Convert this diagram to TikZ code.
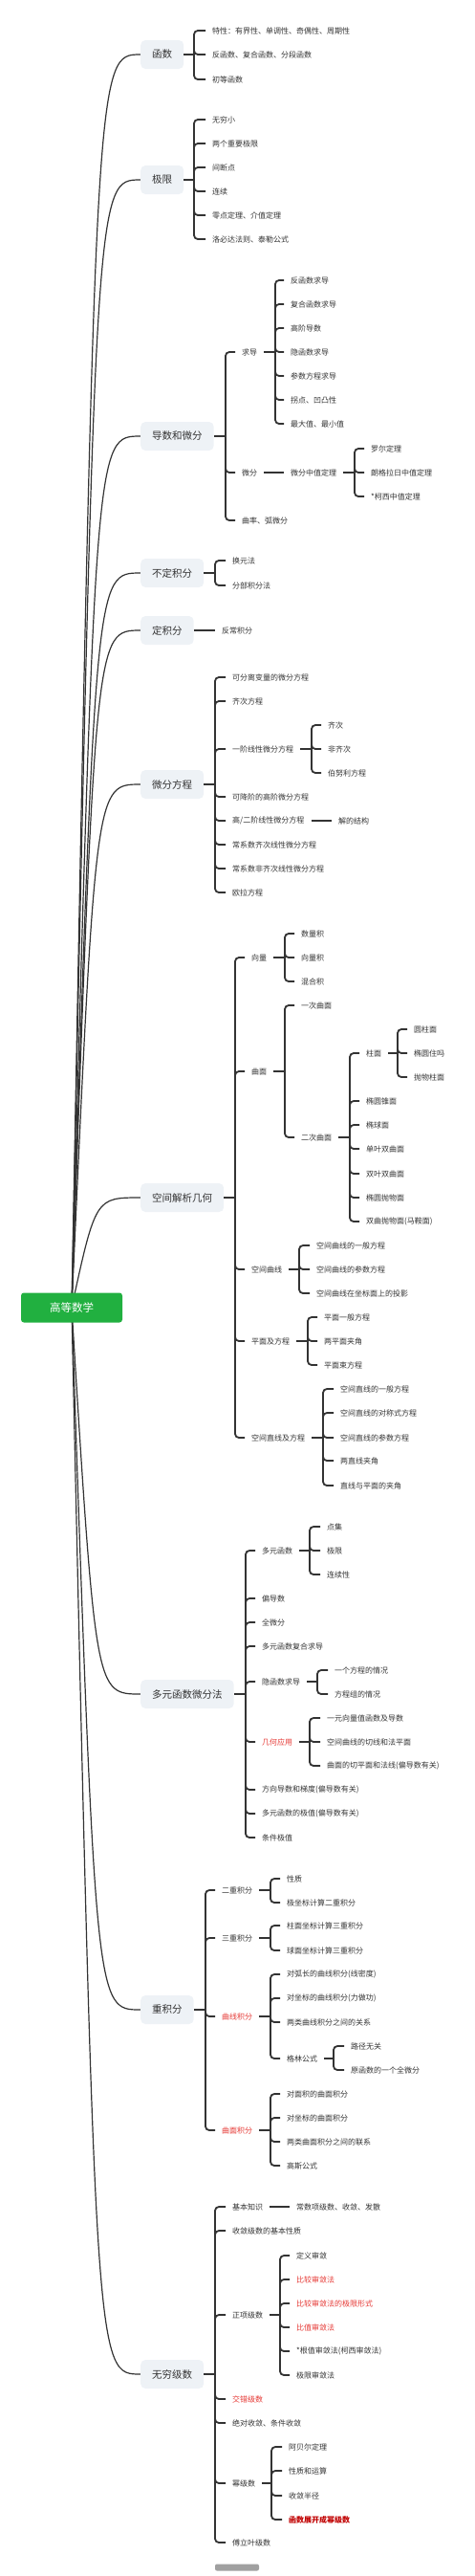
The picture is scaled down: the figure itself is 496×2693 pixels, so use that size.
\documentclass[tikz,border=0pt]{standalone}
\usepackage{fontspec}
\newfontfamily\cjk{Noto Sans CJK SC}
\usetikzlibrary{backgrounds}
\definecolor{txt}{HTML}{333333}
\definecolor{ln}{HTML}{333333}
\definecolor{lonefill}{HTML}{EEF2F6}
\definecolor{rootg}{HTML}{21B040}
\definecolor{redc}{HTML}{E53935}
\definecolor{darkr}{HTML}{C00000}
\definecolor{wmgray}{HTML}{A0A0A0}
\tikzset{
 tx/.style={anchor=west, xshift=-7pt, inner xsep=7pt, inner ysep=1pt, text=txt, font=\cjk\fontsize{8}{10}\selectfont},
 lone/.style={anchor=west, fill=lonefill, rounded corners=5pt, inner xsep=12pt, inner ysep=0pt, minimum height=30pt, text=txt, font=\cjk\fontsize{10.5}{12}\selectfont},
 rootst/.style={fill=rootg, text=white, rounded corners=3pt, minimum width=106pt, minimum height=31pt, inner sep=0pt, font=\cjk\fontsize{11.5}{13}\selectfont},
 br/.style={draw=ln, line width=1.8pt, rounded corners=4pt},
 cv/.style={draw=ln, line width=1.2pt},
 hl/.style={text=redc},
 hd/.style={text=darkr, font=\cjk\bfseries\fontsize{8}{10}\selectfont}
}
\newcommand\brk[3]{%
  \coordinate (#1bx) at (#2,0);
  \draw[br] (#1.east) -- (#1.east -| #1bx);
  \foreach \ch in {#3}{\draw[br] (#1.east -| #1bx) |- (\ch.west);}
}
\begin{document}
\begin{tikzpicture}[x=1pt,y=-1pt]
\useasboundingbox (0,0) rectangle (496,2693);
% root
\node[rootst] (r) at (75,1367) {高等数学};
% level 1
\node[lone] (f) at (147,57) {函数};
\node[lone] (j) at (147,188) {极限};
\node[lone] (d) at (147,456) {导数和微分};
\node[lone] (b) at (147,599) {不定积分};
\node[lone] (dj) at (147,659) {定积分};
\node[lone] (w) at (147,820) {微分方程};
\node[lone] (k) at (147,1252) {空间解析几何};
\node[lone] (m) at (147,1771) {多元函数微分法};
\node[lone] (z) at (147,2101) {重积分};
\node[lone] (s) at (147,2482) {无穷级数};
\coordinate (cc) at (100,0);
\begin{pgfonlayer}{background}
\foreach \L in {f,j,d,b,dj,w,k,m,z,s}{\draw[cv] (r.center) .. controls (\L.west -| cc) .. (\L.west);}
\end{pgfonlayer}
% 函数
\node[tx] (f1) at (222,32) {特性：有界性、单调性、奇偶性、周期性};
\node[tx] (f2) at (222,57) {反函数、复合函数、分段函数};
\node[tx] (f3) at (222,83) {初等函数};
\brk{f}{203}{f1,f2,f3}
% 极限
\node[tx] (j1) at (222,125) {无穷小};
\node[tx] (j2) at (222,150) {两个重要极限};
\node[tx] (j3) at (222,175) {间断点};
\node[tx] (j4) at (222,200) {连续};
\node[tx] (j5) at (222,225) {零点定理、介值定理};
\node[tx] (j6) at (222,250) {洛必达法则、泰勒公式};
\brk{j}{203}{j1,j2,j3,j4,j5,j6}
% 导数和微分
\node[tx] (d1) at (253,368) {求导};
\node[tx] (d2) at (253,494) {微分};
\node[tx] (d3) at (253,544) {曲率、弧微分};
\brk{d}{236}{d1,d2,d3}
\node[tx] (d1a) at (304,293) {反函数求导};
\node[tx] (d1b) at (304,318) {复合函数求导};
\node[tx] (d1c) at (304,343) {高阶导数};
\node[tx] (d1d) at (304,368) {隐函数求导};
\node[tx] (d1e) at (304,393) {参数方程求导};
\node[tx] (d1f) at (304,418) {拐点、凹凸性};
\node[tx] (d1g) at (304,443) {最大值、最小值};
\brk{d1}{288}{d1a,d1b,d1c,d1d,d1e,d1f,d1g}
\node[tx] (d2a) at (304,494) {微分中值定理};
\draw[br] (d2.east) -- (d2a.west);
\node[tx] (d2a1) at (388,469) {罗尔定理};
\node[tx] (d2a2) at (388,494) {朗格拉日中值定理};
\node[tx] (d2a3) at (388,519) {*柯西中值定理};
\brk{d2a}{371}{d2a1,d2a2,d2a3}
% 不定积分
\node[tx] (b1) at (243,586) {换元法};
\node[tx] (b2) at (243,612) {分部积分法};
\brk{b}{225}{b1,b2}
% 定积分
\node[tx] (dj1) at (232,659) {反常积分};
\draw[br] (dj.east) -- (dj1.west);
% 微分方程
\node[tx] (w1) at (243,708) {可分离变量的微分方程};
\node[tx] (w2) at (243,733) {齐次方程};
\node[tx] (w3) at (243,783) {一阶线性微分方程};
\node[tx] (w4) at (243,833) {可降阶的高阶微分方程};
\node[tx] (w5) at (243,858) {高/二阶线性微分方程};
\node[tx] (w6) at (243,883) {常系数齐次线性微分方程};
\node[tx] (w7) at (243,908) {常系数非齐次线性微分方程};
\node[tx] (w8) at (243,933) {欧拉方程};
\brk{w}{225}{w1,w2,w3,w4,w5,w6,w7,w8}
\node[tx] (w3a) at (343,758) {齐次};
\node[tx] (w3b) at (343,783) {非齐次};
\node[tx] (w3c) at (343,808) {伯努利方程};
\brk{w3}{326}{w3a,w3b,w3c}
\node[tx] (w5a) at (354,858) {解的结构};
\draw[br] (w5.east) -- (w5a.west);
% 空间解析几何
\node[tx] (k1) at (263,1001) {向量};
\node[tx] (k2) at (263,1120) {曲面};
\node[tx] (k3) at (263,1327) {空间曲线};
\node[tx] (k4) at (263,1402) {平面及方程};
\node[tx] (k5) at (263,1503) {空间直线及方程};
\brk{k}{246}{k1,k2,k3,k4,k5}
\node[tx] (k1a) at (315,976) {数量积};
\node[tx] (k1b) at (315,1001) {向量积};
\node[tx] (k1c) at (315,1026) {混合积};
\brk{k1}{298}{k1a,k1b,k1c}
\node[tx] (k2a) at (315,1051) {一次曲面};
\node[tx] (k2b) at (315,1189) {二次曲面};
\brk{k2}{298}{k2a,k2b}
\node[tx] (q1) at (383,1101) {柱面};
\node[tx] (q2) at (383,1151) {椭圆锥面};
\node[tx] (q3) at (383,1176) {椭球面};
\node[tx] (q4) at (383,1201) {单叶双曲面};
\node[tx] (q5) at (383,1227) {双叶双曲面};
\node[tx] (q6) at (383,1252) {椭圆抛物面};
\node[tx] (q7) at (383,1277) {双曲抛物面(马鞍面)};
\brk{k2b}{366}{q1,q2,q3,q4,q5,q6,q7}
\node[tx] (q1a) at (433,1076) {圆柱面};
\node[tx] (q1b) at (433,1101) {椭圆住吗};
\node[tx] (q1c) at (433,1126) {抛物柱面};
\brk{q1}{416}{q1a,q1b,q1c}
\node[tx] (k3a) at (331,1302) {空间曲线的一般方程};
\node[tx] (k3b) at (331,1327) {空间曲线的参数方程};
\node[tx] (k3c) at (331,1352) {空间曲线在坐标面上的投影};
\brk{k3}{313}{k3a,k3b,k3c}
\node[tx] (k4a) at (339,1377) {平面一般方程};
\node[tx] (k4b) at (339,1402) {两平面夹角};
\node[tx] (k4c) at (339,1427) {平面束方程};
\brk{k4}{322}{k4a,k4b,k4c}
\node[tx] (k5a) at (356,1452) {空间直线的一般方程};
\node[tx] (k5b) at (356,1477) {空间直线的对称式方程};
\node[tx] (k5c) at (356,1503) {空间直线的参数方程};
\node[tx] (k5d) at (356,1527) {两直线夹角};
\node[tx] (k5e) at (356,1553) {直线与平面的夹角};
\brk{k5}{338}{k5a,k5b,k5c,k5d,k5e}
% 多元函数微分法
\node[tx] (m1) at (274,1621) {多元函数};
\node[tx] (m2) at (274,1671) {偏导数};
\node[tx] (m3) at (274,1696) {全微分};
\node[tx] (m4) at (274,1721) {多元函数复合求导};
\node[tx] (m5) at (274,1758) {隐函数求导};
\node[tx,hl] (m6) at (274,1821) {几何应用};
\node[tx] (m7) at (274,1871) {方向导数和梯度(偏导数有关)};
\node[tx] (m8) at (274,1896) {多元函数的极值(偏导数有关)};
\node[tx] (m9) at (274,1921) {条件极值};
\brk{m}{257}{m1,m2,m3,m4,m5,m6,m7,m8,m9}
\node[tx] (m1a) at (342,1596) {点集};
\node[tx] (m1b) at (342,1621) {极限};
\node[tx] (m1c) at (342,1646) {连续性};
\brk{m1}{324}{m1a,m1b,m1c}
\node[tx] (m5a) at (350,1746) {一个方程的情况};
\node[tx] (m5b) at (350,1771) {方程组的情况};
\brk{m5}{332}{m5a,m5b}
\node[tx] (m6a) at (342,1796) {一元向量值函数及导数};
\node[tx] (m6b) at (342,1821) {空间曲线的切线和法平面};
\node[tx] (m6c) at (342,1846) {曲面的切平面和法线(偏导数有关)};
\brk{m6}{324}{m6a,m6b,m6c}
% 重积分
\node[tx] (z1) at (232,1976) {二重积分};
\node[tx] (z2) at (232,2026) {三重积分};
\node[tx,hl] (z3) at (232,2108) {曲线积分};
\node[tx,hl] (z4) at (232,2227) {曲面积分};
\brk{z}{215}{z1,z2,z3,z4}
\node[tx] (z1a) at (300,1964) {性质};
\node[tx] (z1b) at (300,1989) {极坐标计算二重积分};
\brk{z1}{283}{z1a,z1b}
\node[tx] (z2a) at (300,2013) {柱面坐标计算三重积分};
\node[tx] (z2b) at (300,2039) {球面坐标计算三重积分};
\brk{z2}{283}{z2a,z2b}
\node[tx] (z3a) at (300,2064) {对弧长的曲线积分(线密度)};
\node[tx] (z3b) at (300,2089) {对坐标的曲线积分(力做功)};
\node[tx] (z3c) at (300,2114) {两类曲线积分之间的关系};
\node[tx] (z3d) at (300,2152) {格林公式};
\brk{z3}{283}{z3a,z3b,z3c,z3d}
\node[tx] (z3d1) at (367,2139) {路径无关};
\node[tx] (z3d2) at (367,2164) {原函数的一个全微分};
\brk{z3d}{349}{z3d1,z3d2}
\node[tx] (z4a) at (300,2189) {对面积的曲面积分};
\node[tx] (z4b) at (300,2214) {对坐标的曲面积分};
\node[tx] (z4c) at (300,2239) {两类曲面积分之间的联系};
\node[tx] (z4d) at (300,2264) {高斯公式};
\brk{z4}{283}{z4a,z4b,z4c,z4d}
% 无穷级数
\node[tx] (s1) at (243,2307) {基本知识};
\node[tx] (s2) at (243,2332) {收敛级数的基本性质};
\node[tx] (s3) at (243,2420) {正项级数};
\node[tx,hl] (s4) at (243,2508) {交错级数};
\node[tx] (s5) at (243,2533) {绝对收敛、条件收敛};
\node[tx] (s6) at (243,2596) {幂级数};
\node[tx] (s7) at (243,2658) {傅立叶级数};
\brk{s}{225}{s1,s2,s3,s4,s5,s6,s7}
\node[tx] (s1a) at (310,2307) {常数项级数、收敛、发散};
\draw[br] (s1.east) -- (s1a.west);
\node[tx] (s3a) at (310,2358) {定义审敛};
\node[tx,hl] (s3b) at (310,2383) {比较审敛法};
\node[tx,hl] (s3c) at (310,2408) {比较审敛法的极限形式};
\node[tx,hl] (s3d) at (310,2433) {比值审敛法};
\node[tx] (s3e) at (310,2458) {*根值审敛法(柯西审敛法)};
\node[tx] (s3f) at (310,2483) {极限审敛法};
\brk{s3}{293}{s3a,s3b,s3c,s3d,s3e,s3f}
\node[tx] (s6a) at (302,2558) {阿贝尔定理};
\node[tx] (s6b) at (302,2583) {性质和运算};
\node[tx] (s6c) at (302,2609) {收敛半径};
\node[tx,hd] (s6d) at (302,2634) {函数展开成幂级数};
\brk{s6}{284}{s6a,s6b,s6c,s6d}
% watermark
\node[fill=wmgray, rounded corners=2pt, minimum width=46pt, minimum height=7pt, inner sep=0pt] (wm) at (248,2684) {};
\end{tikzpicture}
\end{document}
